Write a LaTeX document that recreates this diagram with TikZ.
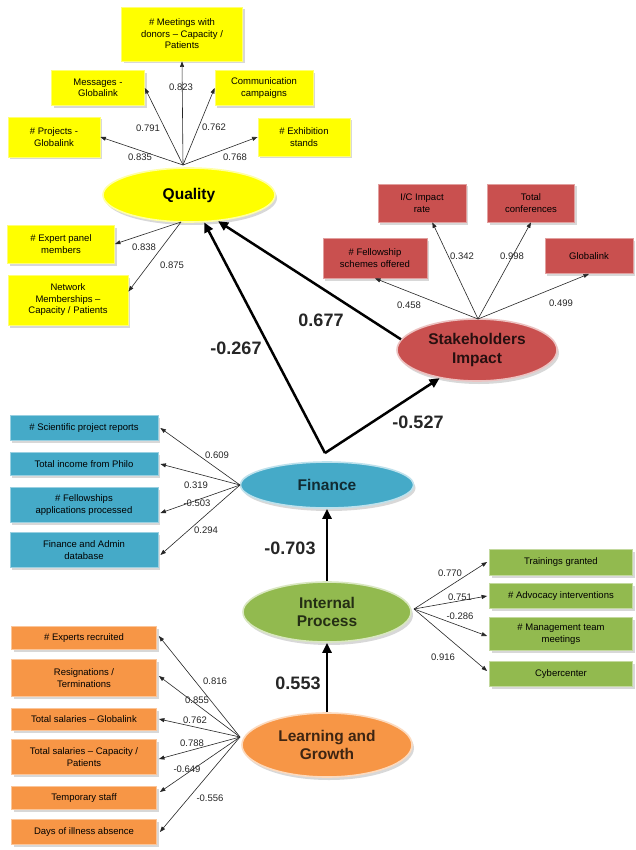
\documentclass[tikz,border=0pt]{standalone}
\usepackage{fontspec}
\setmainfont{Liberation Sans}
\usetikzlibrary{arrows.meta,shadows,shapes.geometric}
\definecolor{qy}{HTML}{FFFF00}
\definecolor{sr}{HTML}{C9504F}
\definecolor{fb}{HTML}{45AAC8}
\definecolor{ig}{HTML}{92BA4F}
\definecolor{lo}{HTML}{F79646}
\begin{document}
\begin{tikzpicture}[x=1pt,y=-1pt,
  mbox/.style={rectangle, fill=#1, draw=#1!55!white, line width=0.8pt, align=center,
    inner sep=1pt, font=\fontsize{9.5}{11.5}\selectfont,
    drop shadow={shadow xshift=2pt, shadow yshift=-2.5pt, fill=black!30}},
  ell/.style={ellipse, fill=#1, draw=#1!35!white, line width=1.6pt, inner sep=0pt, align=center,
    font=\fontsize{15.5}{18.5}\selectfont\bfseries,
    drop shadow={shadow xshift=2pt, shadow yshift=-3pt, fill=black!30}},
  small/.style={-{Triangle[length=5.5pt,width=4pt]}, line width=0.6pt, draw=black!85},
  big/.style={-{Triangle[length=10pt,width=9pt]}, line width=2.5pt},
  coef/.style={font=\fontsize{9.5}{11}\selectfont, inner sep=0.5pt, text=black!85},
  pcoef/.style={font=\fontsize{18}{20}\selectfont\bfseries, inner sep=0.5pt, text=black!85}]
\fill[white] (0,0) rectangle (635,850);
\useasboundingbox (0,0) rectangle (635,850);

% ---------------- latent variables
\node[ell=qy, minimum width=172pt, minimum height=54pt] (quality) at (189,195) {Quality};
\node[ell=sr, minimum width=160pt, minimum height=62pt, text=black!80!sr] (stake) at (477,350) {Stakeholders\\Impact};
\node[ell=fb, minimum width=173pt, minimum height=46pt, text=black!75!fb] (fin) at (327,485) {Finance};
\node[ell=ig, minimum width=168pt, minimum height=60pt, text=black!75!ig] (ip) at (327,612) {Internal\\Process};
\node[ell=lo, minimum width=170pt, minimum height=64pt, text=black!75!lo] (lg) at (327,745) {Learning and\\Growth};

% ---------------- quality indicators
\node[mbox=qy, minimum width=121pt, minimum height=54pt] (meet) at (182,34) {\# Meetings with\\donors – Capacity /\\Patients};
\node[mbox=qy, minimum width=93pt, minimum height=35pt] (msg) at (98,88) {Messages -\\Globalink};
\node[mbox=qy, minimum width=98pt, minimum height=35pt] (comm) at (264,88) {Communication\\campaigns};
\node[mbox=qy, minimum width=92pt, minimum height=40pt] (proj) at (54,137) {\# Projects -\\Globalink};
\node[mbox=qy, minimum width=92pt, minimum height=38pt] (exh) at (304,137) {\# Exhibition\\stands};
\node[mbox=qy, minimum width=107pt, minimum height=38pt] (exp) at (61,244) {\# Expert panel\\members};
\node[mbox=qy, minimum width=120pt, minimum height=50pt] (net) at (68,300) {Network\\Memberships –\\Capacity / Patients};

\coordinate (qtop) at (183,165);
\coordinate (qbot) at (181,222);
\draw[small] (qtop) -- (meet.south);
\draw[small] (qtop) -- (msg.east);
\draw[small] (qtop) -- (comm.west);
\draw[small] (qtop) -- (proj.east);
\draw[small] (qtop) -- (exh.west);
\draw[small] (qbot) -- (exp.east);
\draw[small] (qbot) -- (net.8);
\node[coef] (q1) at (181,87) {0.823};
\node[coef] (q2) at (148,128) {0.791};
\node[coef] (q3) at (214,127) {0.762};
\node[coef] (q4) at (140,157) {0.835};
\node[coef] (q5) at (235,157) {0.768};
\node[coef] (q6) at (144,247) {0.838};
\node[coef] (q7) at (172,265) {0.875};

% ---------------- stakeholder indicators
\node[mbox=sr, minimum width=88pt, minimum height=38pt] (ic) at (422,203) {I/C Impact\\rate};
\node[mbox=sr, minimum width=87pt, minimum height=38pt] (tc) at (531,203) {Total\\conferences};
\node[mbox=sr, minimum width=104pt, minimum height=40pt] (fel) at (375,258) {\# Fellowship\\schemes offered};
\node[mbox=sr, minimum width=88pt, minimum height=35pt] (glo) at (589,256) {Globalink};
\coordinate (shub) at (478,319);
\draw[small] (shub) -- (fel.south);
\draw[small] (shub) -- (ic.-62);
\draw[small] (shub) -- (tc.south);
\draw[small] (shub) -- (glo.south);
\node[coef] (s1) at (462,256) {0.342};
\node[coef] (s2) at (512,256) {0.998};
\node[coef] (s3) at (409,305) {0.458};
\node[coef] (s4) at (561,303) {0.499};

% ---------------- finance indicators
\node[mbox=fb, minimum width=148pt, minimum height=25pt] (sci) at (84,428) {\# Scientific project reports};
\node[mbox=fb, minimum width=148pt, minimum height=23pt] (inc) at (84,464) {Total income from Philo};
\node[mbox=fb, minimum width=148pt, minimum height=35pt] (fap) at (84,505) {\# Fellowships\\applications processed};
\node[mbox=fb, minimum width=148pt, minimum height=35pt] (fad) at (84,550) {Finance and Admin\\database};
\coordinate (fhub) at (240,485);
\draw[small] (fhub) -- ([xshift=2pt]sci.east);
\draw[small] (fhub) -- ([xshift=2pt]inc.east);
\draw[small] (fhub) -- ([xshift=2pt,yshift=-8pt]fap.east);
\draw[small] (fhub) -- ([xshift=2pt,yshift=-5pt]fad.east);
\node[coef] (f1) at (217,455) {0.609};
\node[coef] (f2) at (196,485) {0.319};
\node[coef] (f3) at (197,503) {-0.503};
\node[coef] (f4) at (206,530) {0.294};

% ---------------- internal process indicators
\node[mbox=ig, minimum width=143pt, minimum height=26pt] (tr) at (561,562) {Trainings granted};
\node[mbox=ig, minimum width=143pt, minimum height=25pt] (adv) at (561,596) {\# Advocacy interventions};
\node[mbox=ig, minimum width=143pt, minimum height=33pt] (mgt) at (561,634) {\# Management team\\meetings};
\node[mbox=ig, minimum width=143pt, minimum height=25pt] (cyb) at (561,674) {Cybercenter};
\coordinate (iphub) at (414,609);
\draw[small] (iphub) -- ([xshift=-2pt]tr.west);
\draw[small] (iphub) -- ([xshift=-2pt]adv.west);
\draw[small] (iphub) -- ([xshift=-2pt,yshift=-2pt]mgt.west);
\draw[small] (iphub) -- ([xshift=-2pt,yshift=3pt]cyb.west);
\node[coef] (i1) at (450,573) {0.770};
\node[coef] (i2) at (460,597) {0.751};
\node[coef] (i3) at (460,616) {-0.286};
\node[coef] (i4) at (443,657) {0.916};

% ---------------- learning and growth indicators
\node[mbox=lo, minimum width=145pt, minimum height=23pt] (e1) at (84,638) {\# Experts recruited};
\node[mbox=lo, minimum width=145pt, minimum height=37pt] (e2) at (84,678) {Resignations /\\Terminations};
\node[mbox=lo, minimum width=145pt, minimum height=22pt] (e3) at (84,719) {Total salaries – Globalink};
\node[mbox=lo, minimum width=145pt, minimum height=35pt] (e4) at (84,757) {Total salaries – Capacity /\\Patients};
\node[mbox=lo, minimum width=145pt, minimum height=23pt] (e5) at (84,798) {Temporary staff};
\node[mbox=lo, minimum width=145pt, minimum height=25pt] (e6) at (84,832) {Days of illness absence};
\coordinate (lghub) at (240,737);
\draw[small] (lghub) -- ([xshift=2pt,yshift=2pt]e1.east);
\draw[small] (lghub) -- ([xshift=2pt,yshift=2pt]e2.east);
\draw[small] (lghub) -- ([xshift=2pt]e3.east);
\draw[small] (lghub) -- ([xshift=2pt,yshift=-2pt]e4.east);
\draw[small] (lghub) -- ([xshift=3pt,yshift=6pt]e5.east);
\draw[small] (lghub) -- ([xshift=3pt]e6.east);
\node[coef] (l1) at (215,681) {0.816};
\node[coef] (l2) at (197,700) {0.855};
\node[coef] (l3) at (195,720) {0.762};
\node[coef] (l4) at (192,743) {0.788};
\node[coef] (l5) at (187,769) {-0.649};
\node[coef] (l6) at (210,798) {-0.556};

% ---------------- structural paths
\coordinate (fv) at (325,453);
\draw[big] (stake.172) -- (quality.-42);
\draw[big] (fv) -- (quality.-61);
\draw[big] (fv) -- (stake.217);
\draw[big] (ip.north) -- (fin.south);
\draw[big] (lg.north) -- (ip.south);
\node[pcoef] (p1) at (321,320) {0.677};
\node[pcoef] (p2) at (236,348) {-0.267};
\node[pcoef] (p3) at (418,422) {-0.527};
\node[pcoef] (p4) at (290,548) {-0.703};
\node[pcoef] (p5) at (298,683) {0.553};
\end{tikzpicture}
\end{document}
